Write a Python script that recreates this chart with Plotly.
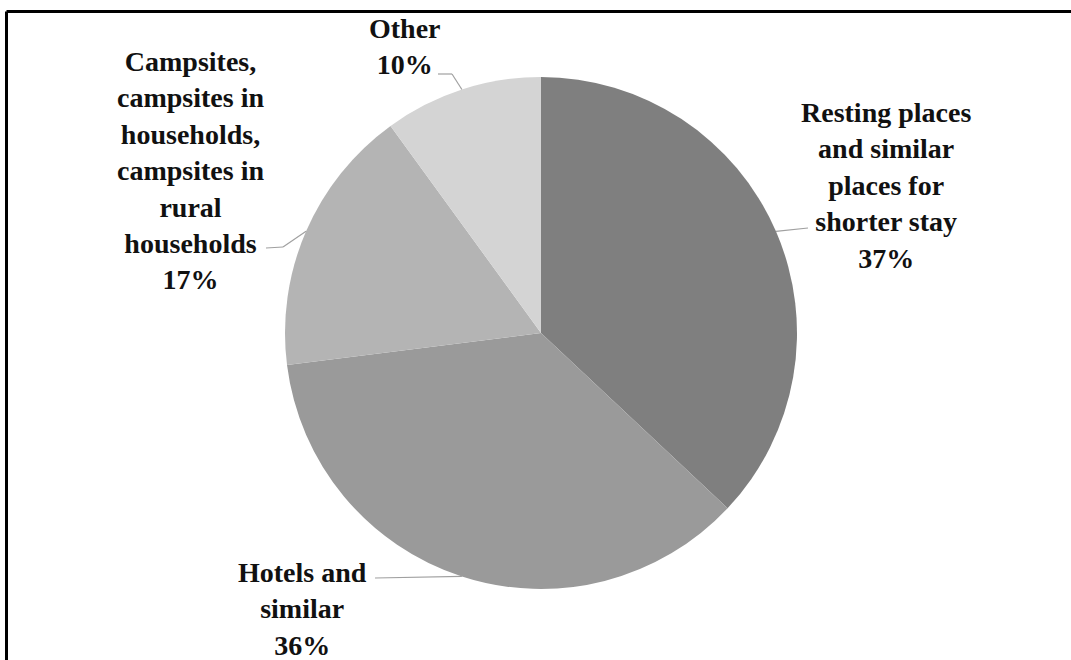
import math
import plotly.graph_objects as go

# ---- data ----
categories = [
    "Resting places and similar places for shorter stay",
    "Hotels and similar",
    "Campsites, campsites in households, campsites in rural households",
    "Other",
]
values = [37, 36, 17, 10]
label_lines = [
    ["Resting places", "and similar", "places for", "shorter stay"],
    ["Hotels and", "similar"],
    ["Campsites,", "campsites in", "households,", "campsites in", "rural", "households"],
    ["Other"],
]
colors = ["#7f7f7f", "#9a9a9a", "#b4b4b4", "#d4d4d4"]

# ---- layout constants (pixels) ----
W, H = 1071, 660
CX, CY, R = 541, 333, 256
label_pos = [(886, 186), (302, 609), (190, 171), (405, 47)]
# where each leader line meets its label (possibly with an elbow point)
leader_label_pts = [
    [(808, 228)],
    [(375, 578)],
    [(266, 248), (283, 247)],
    [(438, 74), (452, 74)],
]


def px(x):
    return x / W


def py(y):
    return 1 - y / H


fig = go.Figure(
    go.Pie(
        labels=categories,
        values=values,
        sort=False,
        direction="clockwise",
        rotation=0,
        marker=dict(colors=colors, line=dict(width=0)),
        textinfo="none",
        hoverinfo="label+percent",
        showlegend=False,
        domain=dict(x=[px(CX - R), px(CX + R)], y=[py(CY + R), py(CY - R)]),
    )
)

total = sum(values)
annotations = []
shapes = []
cum = 0
for i, v in enumerate(values):
    mid = (cum + v / 2) / total * 2 * math.pi
    cum += v
    ex = CX + R * math.sin(mid)
    ey = CY - R * math.cos(mid)
    pct = round(v / total * 100)
    text = "<br>".join(label_lines[i] + [f"{pct}%"])
    lx, ly = label_pos[i]
    annotations.append(
        dict(
            x=px(lx), y=py(ly), xref="paper", yref="paper",
            text=f"<b>{text}</b>", showarrow=False,
            xanchor="center", yanchor="middle", align="center",
            font=dict(family="Liberation Serif", size=28, color="#111111"),
        )
    )
    pts = leader_label_pts[i] + [(ex, ey)]
    for (x0, y0), (x1, y1) in zip(pts[:-1], pts[1:]):
        shapes.append(
            dict(type="line", xref="paper", yref="paper",
                 x0=px(x0), y0=py(y0), x1=px(x1), y1=py(y1),
                 line=dict(color="#a0a0a0", width=1.2))
        )

# frame (top and left edges visible)
shapes.append(dict(type="line", xref="paper", yref="paper",
                   x0=px(6.5), y0=py(11.5), x1=1.0, y1=py(11.5),
                   line=dict(color="black", width=3)))
shapes.append(dict(type="line", xref="paper", yref="paper",
                   x0=px(6.5), y0=py(11.5), x1=px(6.5), y1=0.0,
                   line=dict(color="black", width=3)))

fig.update_layout(
    width=W, height=H,
    margin=dict(l=0, r=0, t=0, b=0),
    paper_bgcolor="white",
    plot_bgcolor="white",
    annotations=annotations,
    shapes=shapes,
)

fig.write_html(
    "out.html",
    config={"displayModeBar": False},
    post_script="document.body.style.margin='0px';document.body.style.overflow='hidden';",
)
